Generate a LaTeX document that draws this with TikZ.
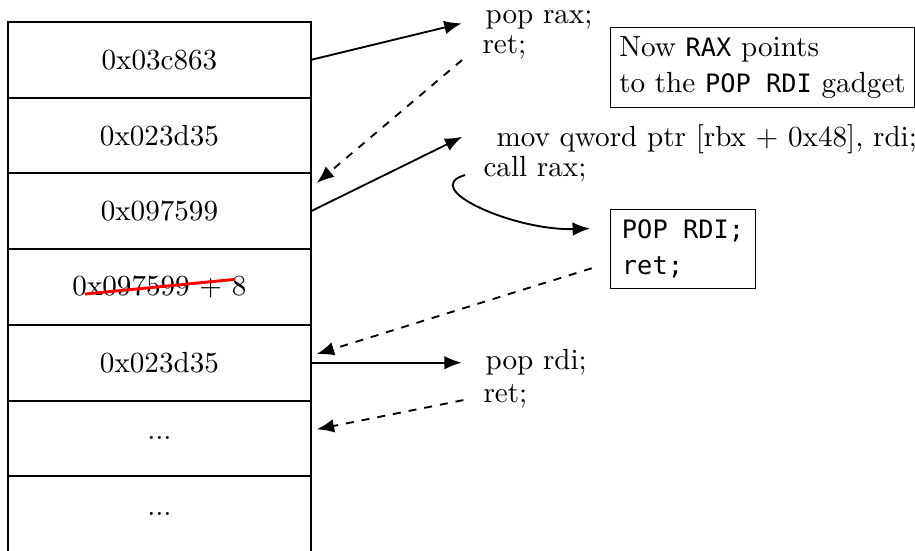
\documentclass[tikz,border=0pt,11pt]{standalone}
\usepackage{fontspec}
\setmonofont[Scale=0.87]{DejaVu Sans Mono}
\usetikzlibrary{arrows.meta,calc}
\begin{document}
\begin{tikzpicture}[
  cell/.style={draw, line width=0.75pt, minimum width=4cm, minimum height=1cm, inner sep=0pt, outer sep=0pt},
  instr/.style={anchor=base west, inner sep=0pt},
  note/.style={draw, thin, align=left, anchor=north west, inner sep=3.3pt},
  arr/.style={line width=0.7pt, -{Latex[length=2.3mm,width=1.8mm]}},
  darr/.style={arr, dashed},
  strike/.style={red, line width=1.1pt},
]
\useasboundingbox (-0.106,0.291) rectangle (11.981,-6.975);

% stack cells
\node[cell] (r1) at (2,-0.5) {0x03c863};
\node[cell] (r2) at (2,-1.5) {0x023d35};
\node[cell] (r3) at (2,-2.5) {0x097599};
\node[cell] (r4) at (2,-3.5) {0x097599 + 8};
\node[cell] (r5) at (2,-4.5) {0x023d35};
\node[cell] (r6) at (2,-5.5) {...};
\node[cell] (r7) at (2,-6.5) {...};

% strike through
\coordinate (s1) at (1.017,-3.593);
\coordinate (s2) at (3.0,-3.399);
\draw[strike] (s1) -- (s2);

% instruction texts
\node[instr] (poprax) at (6.301,-0.013) {pop rax;};
\node[instr] (ret1) at (6.261,-0.409) {ret;};
\node[instr] (mov) at (6.446,-1.638) {mov qword ptr [rbx + 0x48], rdi;};
\node[instr] (call) at (6.274,-2.034) {call rax;};
\node[instr] (poprdi) at (6.301,-4.584) {pop rdi;};
\node[instr] (ret2) at (6.274,-5.02) {ret;};

% notes
\node[note] (note1) at (7.952,-0.066) {Now \texttt{RAX} points\\to the \texttt{POP RDI} gadget};
\node[note, inner xsep=4.3pt, inner ysep=3.8pt] (gadget) at (7.952,-2.47) {\texttt{POP RDI;}\\\texttt{ret;}};

% arrows
\draw[arr] (r1.east) -- ($(poprax.base west)+(-0.308,-0.004)$);
\draw[darr] ($(ret1.base west)+(-0.264,-0.093)$) -- ($(r3.north east)+(0.078,-0.126)$);
\draw[arr] (r3.east) -- ($(mov.base west)+(-0.445,0.122)$);
\draw[arr] ($(call.base west)+(-0.237,0.013)$) .. controls (5.42,-2.2) and (6.7,-2.76) .. ($(gadget.west)+(-0.264,0.27)$);
\draw[darr] ($(gadget.west)+(-0.242,-0.255)$) -- ($(r5.east)+(0.078,0.114)$);
\draw[arr] (r5.east) -- ($(poprdi.base west)+(-0.308,0.084)$);
\draw[darr] ($(ret2.base west)+(-0.259,0.026)$) -- ($(r6.east)+(0.078,0.12)$);
\end{tikzpicture}
\end{document}
